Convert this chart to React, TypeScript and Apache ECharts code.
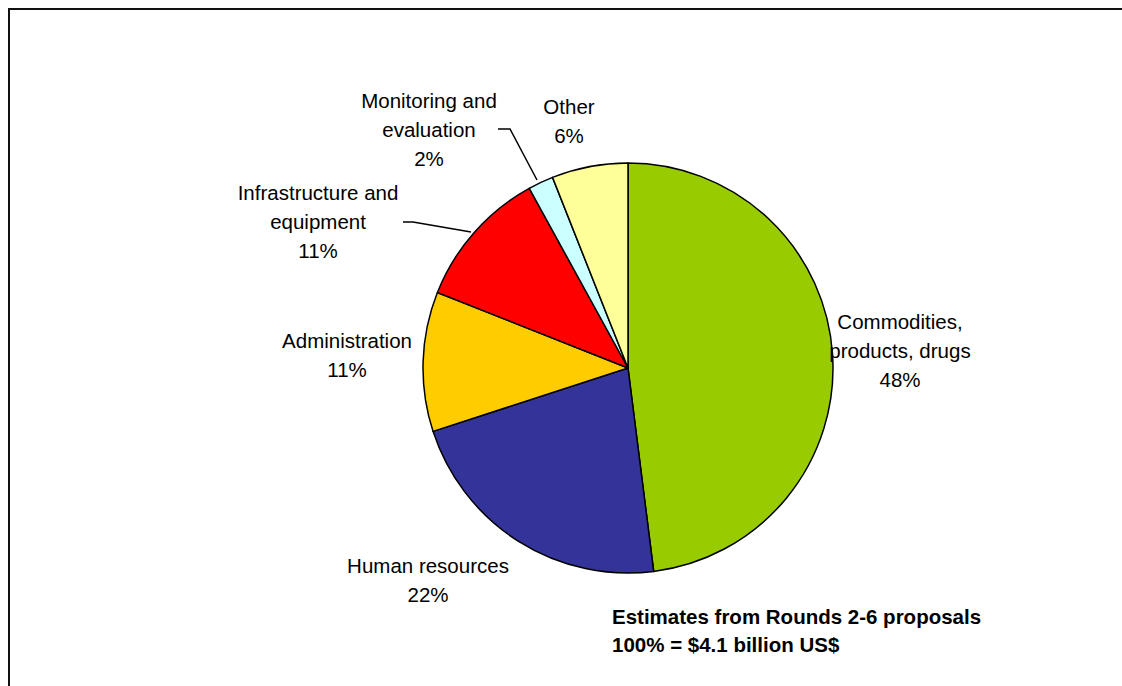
import React, { useEffect, useRef } from "react";
import * as echarts from "echarts";

const categories = [
  "Commodities, products, drugs",
  "Human resources",
  "Administration",
  "Infrastructure and equipment",
  "Monitoring and evaluation",
  "Other",
];
const labelLines = [
  "Commodities,\nproducts, drugs",
  "Human resources",
  "Administration",
  "Infrastructure and\nequipment",
  "Monitoring and\nevaluation",
  "Other",
];
const values = [48, 22, 11, 11, 2, 6];
const colors = ["#99CC00", "#333399", "#FFCC00", "#FF0000", "#CCFFFF", "#FFFF99"];
const noteLines = ["Estimates from Rounds 2-6 proposals", "100% = $4.1 billion US$"];

// label block centres and leader lines (layout only)
const labelPos: [number, number][] = [
  [900, 350],
  [428, 580],
  [347, 355],
  [318, 221],
  [429, 129],
  [569, 121],
];
const leaderPts: (number[][] | null)[] = [
  null,
  null,
  null,
  [[403, 222], [413, 222], [471, 232]],
  [[498, 129], [510, 129], [537, 180]],
  null,
];

export default function App() {
  const ref = useRef<HTMLDivElement>(null);
  useEffect(() => {
    if (!ref.current) return;
    const chart = echarts.init(ref.current, null, { renderer: "svg" });
    const font = "'Liberation Sans', Arial, sans-serif";
    chart.setOption({
      animation: false,
      backgroundColor: "#ffffff",
      graphic: [
        {
          type: "rect",
          shape: { x: 9, y: 9, width: 1200, height: 760 },
          style: { fill: "none", stroke: "#111", lineWidth: 2 },
          silent: true,
        },
        {
          type: "text",
          left: 612,
          top: 602,
          style: {
            text: noteLines.join("\n"),
            font: `bold 20.5px ${font}`,
            lineHeight: 28,
            fill: "#000",
          },
        },
      ],
      series: [
        {
          type: "pie",
          center: [628, 368],
          radius: 205,
          startAngle: 90,
          clockwise: true,
          data: categories.map((c, i) => ({
            name: c,
            value: values[i],
            itemStyle: { color: colors[i] },
            labelLine: { show: !!leaderPts[i] },
          })),
          itemStyle: { borderColor: "#000", borderWidth: 1.5 },
          label: {
            show: true,
            position: "outside",
            formatter: (p: any) => `${labelLines[p.dataIndex]}\n${p.value}%`,
            fontFamily: font,
            fontSize: 20.5,
            lineHeight: 29,
            color: "#000",
            align: "center",
          },
          labelLine: {
            show: true,
            lineStyle: { color: "#000", width: 1.5 },
          },
          labelLayout: (params: any) => {
            const i = params.dataIndex;
            const res: any = {
              x: labelPos[i][0],
              y: labelPos[i][1],
              align: "center",
              verticalAlign: "middle",
            };
            if (leaderPts[i]) res.labelLinePoints = leaderPts[i];
            return res;
          },
          emphasis: { disabled: true },
        },
      ],
    });
    return () => chart.dispose();
  }, []);
  return (
    <div
      ref={ref}
      style={{ position: "fixed", left: 0, top: 0, width: 1122, height: 686 }}
    />
  );
}
